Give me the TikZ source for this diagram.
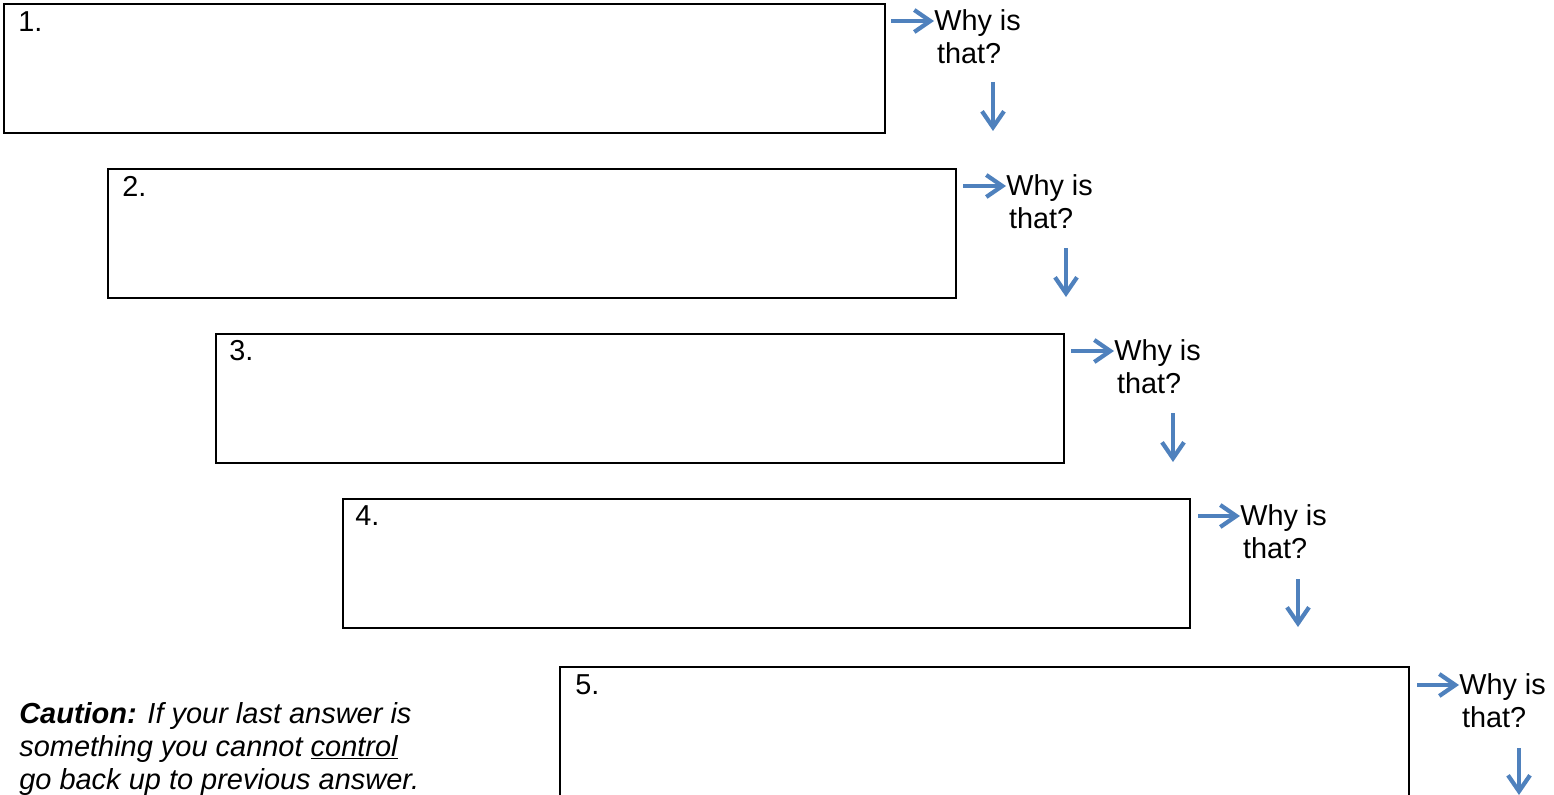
\documentclass[tikz,border=0pt]{standalone}
\usepackage{fontspec}
\setmainfont{Liberation Sans}
\usetikzlibrary{arrows.meta}
\definecolor{whyblue}{RGB}{79,129,189}
\tikzset{
	answerbox/.style={draw, line width=1.3pt, anchor=north west, minimum height=3.225cm, inner sep=0pt},
	numlabel/.style={anchor=west, inner sep=0pt, font=\fontsize{20.5}{23.4}\selectfont},
	whytext/.style={anchor=west, align=left, inner sep=0pt, font=\fontsize{20.5}{23.4}\selectfont},
	whyarrow/.style={draw=whyblue, line width=2.2pt, -{Straight Barb[length=0.4cm, width=0.55cm, line width=3pt]}}
}

\begin{document}
\begin{tikzpicture}[x=0.025cm, y=-0.025cm]
			%%%%% START %%%%%
			\path[use as bounding box, clip] (0, 0) rectangle (1554, 795);
			
			\node[answerbox, minimum width=22.025cm] (box1) at (3, 3) {};
			\node[numlabel] (n1) at (18, 22) {1.};
			\coordinate (r1) at (891, 21);
			\node[whytext] (why1) at (934, 37) {Why is\\\hspace{2pt}that?};
			\draw[whyarrow] (r1) -- (r1 -| why1.west);
			\coordinate (d1) at (993, 82);
			\coordinate (e1) at (993, 131);
			\draw[whyarrow] (d1) -- (e1);
			
			\node[answerbox, minimum width=21.2cm] (box2) at (107, 168) {};
			\node[numlabel] (n2) at (122, 186) {2.};
			\coordinate (r2) at (963, 186);
			\node[whytext] (why2) at (1006, 202) {Why is\\\hspace{2pt}that?};
			\draw[whyarrow] (r2) -- (r2 -| why2.west);
			\coordinate (d2) at (1066, 248);
			\coordinate (e2) at (1066, 297);
			\draw[whyarrow] (d2) -- (e2);
			
			\node[answerbox, minimum width=21.2cm] (box3) at (215, 333) {};
			\node[numlabel] (n3) at (229, 351) {3.};
			\coordinate (r3) at (1071, 351);
			\node[whytext] (why3) at (1114, 367) {Why is\\\hspace{2pt}that?};
			\draw[whyarrow] (r3) -- (r3 -| why3.west);
			\coordinate (d3) at (1173, 413);
			\coordinate (e3) at (1173, 462);
			\draw[whyarrow] (d3) -- (e3);
			
			\node[answerbox, minimum width=21.175cm] (box4) at (342, 498) {};
			\node[numlabel] (n4) at (355, 516) {4.};
			\coordinate (r4) at (1198, 516);
			\node[whytext] (why4) at (1240, 532) {Why is\\\hspace{2pt}that?};
			\draw[whyarrow] (r4) -- (r4 -| why4.west);
			\coordinate (d4) at (1298, 579);
			\coordinate (e4) at (1298, 627);
			\draw[whyarrow] (d4) -- (e4);
			
			\node[answerbox, minimum width=21.225cm] (box5) at (559, 666) {};
			\node[numlabel] (n5) at (575, 685) {5.};
			\coordinate (r5) at (1417, 685);
			\node[whytext] (why5) at (1459, 701) {Why is\\\hspace{2pt}that?};
			\draw[whyarrow] (r5) -- (r5 -| why5.west);
			\coordinate (d5) at (1519, 748);
			\coordinate (e5) at (1519, 795);
			\draw[whyarrow] (d5) -- (e5);
			
			\node[anchor=west, align=left, inner sep=0pt, font=\fontsize{20.6}{23.6}\selectfont\itshape] (caution) at (19, 749)
				{\textbf{Caution:} If your last answer is\\something you cannot \underline{control}\\go back up to previous answer.};
			
			%%%%% END %%%%%
		\end{tikzpicture}
\end{document}
